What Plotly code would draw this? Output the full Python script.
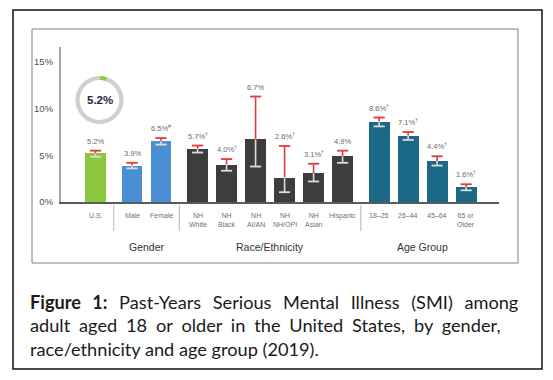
import plotly.graph_objects as go

# ---------------- data ----------------
categories = ["U.S.", "Male", "Female", "NH<br>White", "NH<br>Black", "NH<br>AI/AN",
              "NH<br>NH/OPI", "NH<br>Asian", "Hispanic", "18–25", "26–44", "45–64", "65 or<br>Older"]
groups = ["", "Gender", "Gender", "Race/Ethnicity", "Race/Ethnicity", "Race/Ethnicity",
          "Race/Ethnicity", "Race/Ethnicity", "Race/Ethnicity", "Age Group", "Age Group",
          "Age Group", "Age Group"]
values = [5.2, 3.9, 6.5, 5.7, 4.0, 6.7, 2.6, 3.1, 4.9, 8.6, 7.1, 4.4, 1.6]
err_up = [0.3, 0.3, 0.35, 0.35, 0.6, 4.6, 3.4, 1.0, 0.6, 0.45, 0.4, 0.5, 0.3]
err_down = [0.35, 0.3, 0.35, 0.4, 0.65, 2.9, 1.55, 0.9, 0.7, 0.5, 0.45, 0.5, 0.35]
marks = ["", "", "#", "†", "†", "", "†", "†", "", "†", "†", "†", "†"]
ytick_vals = [0, 5, 10, 15]
ytick_text = ["0%", "5%", "10%", "15%"]
overall_value = 5.2
caption_lines = [
    "<b>Figure 1:</b> Past-Years Serious Mental Illness (SMI) among",
    "adult aged 18 or older in the United States, by gender,",
    "race/ethnicity and age group (2019).",
]

# ---------------- styling ----------------
group_colors = {"": "#8dc63f", "Gender": "#4a8fd3", "Race/Ethnicity": "#3d3d3d",
                "Age Group": "#1b6986"}
GAP = 0.26
xpos = []
gi = 0
for i, g in enumerate(groups):
    if i > 0 and g != groups[i - 1]:
        gi += 1
    xpos.append(i + gi * GAP)

W_FIG, H_FIG = 553, 380
L, R, T, B = 61, 499, 47, 202


def px(x):
    return (x - L) / (R - L)


def py(y):
    return (B - y) / (B - T)


CHART_FONT = "Liberation Sans, Arial, sans-serif"

fig = go.Figure()

fig.add_trace(go.Bar(
    x=xpos, y=values, width=0.72,
    marker=dict(color=[group_colors[g] for g in groups], line=dict(width=0)),
    hoverinfo="skip", showlegend=False,
))

fig.add_trace(go.Scatter(
    x=xpos, y=values, mode="markers", marker=dict(opacity=0, size=1),
    error_y=dict(type="data", symmetric=False, array=err_up,
                 arrayminus=[0] * len(values), color="#e23b3b", thickness=1.6, width=0),
    showlegend=False, hoverinfo="skip",
))
fig.add_trace(go.Scatter(
    x=xpos, y=values, mode="markers", marker=dict(opacity=0, size=1),
    error_y=dict(type="data", symmetric=False, array=[0] * len(values),
                 arrayminus=err_down, color="#dcdcdc", thickness=1.6, width=0),
    showlegend=False, hoverinfo="skip",
))
fig.add_trace(go.Scatter(
    x=xpos, y=[v + e for v, e in zip(values, err_up)], mode="markers",
    marker=dict(symbol="line-ew", size=8, line=dict(color="#e23b3b", width=1.8)),
    showlegend=False, hoverinfo="skip",
))
fig.add_trace(go.Scatter(
    x=xpos, y=[v - e for v, e in zip(values, err_down)], mode="markers",
    marker=dict(symbol="line-ew", size=8, line=dict(color="#dcdcdc", width=1.8)),
    showlegend=False, hoverinfo="skip",
))

fig.add_trace(go.Pie(
    values=[overall_value, 100 - overall_value],
    marker=dict(colors=["#8dc63f", "#cfcfcf"], line=dict(width=0)),
    hole=0.83, sort=False, direction="clockwise", rotation=0,
    textinfo="none", hoverinfo="skip", showlegend=False,
    domain=dict(x=[px(75.5), px(123.5)], y=[py(124), py(76)]),
))

annotations = []
for x, v, e, m in zip(xpos, values, err_up, marks):
    txt = f"{v:.1f}%" + (f"<sup>{m}</sup>" if m else "")
    annotations.append(dict(x=x, y=v + e, xref="x", yref="y", text=txt, showarrow=False,
                            xanchor="center", yanchor="bottom", yshift=3,
                            font=dict(family=CHART_FONT, size=7.5, color="#6b6b6b")))
for x, c in zip(xpos, categories):
    annotations.append(dict(x=x, y=0, xref="x", yref="y", text=c, showarrow=False,
                            xanchor="center", yanchor="top", yshift=-8,
                            font=dict(family=CHART_FONT, size=7, color="#707070")))
shapes = []
uniq = []
for g in groups:
    if g and g not in uniq:
        uniq.append(g)
for g in uniq:
    xs = [x for x, gg in zip(xpos, groups) if gg == g]
    annotations.append(dict(x=(min(xs) + max(xs)) / 2, y=py(246.5), xref="x", yref="paper",
                            text=g, showarrow=False, xanchor="center", yanchor="middle",
                            font=dict(family=CHART_FONT, size=10.5, color="#333333")))
for i in range(1, len(groups)):
    if groups[i] != groups[i - 1]:
        xm = (xpos[i] + xpos[i - 1]) / 2
        shapes.append(dict(type="line", xref="x", yref="paper", x0=xm, x1=xm,
                           y0=py(205), y1=py(231), line=dict(color="#b5b5b5", width=1)))

annotations.append(dict(x=px(99.5), y=py(100), xref="paper", yref="paper",
                        text=f"<b>{overall_value}%</b>", showarrow=False,
                        xanchor="center", yanchor="middle",
                        font=dict(family=CHART_FONT, size=11.5, color="#1c2a3a")))

cap_y = [301.5, 325, 348.5]
cap_ws = [6.9, 4.2, 0]
for line, yy, ws in zip(caption_lines, cap_y, cap_ws):
    txt = f'<span style="word-spacing:{ws}px">{line}</span>' if ws else line
    annotations.append(dict(x=px(28), y=py(yy), xref="paper", yref="paper", text=txt,
                            showarrow=False, xanchor="left", yanchor="middle",
                            font=dict(family="Lato, Carlito, sans-serif", size=18.2,
                                      color="#1a1a1a")))

shapes.append(dict(type="rect", xref="paper", yref="paper", x0=px(13), x1=px(542),
                   y0=py(369), y1=py(10), line=dict(color="#111111", width=1.5),
                   layer="below"))
shapes.append(dict(type="rect", xref="paper", yref="paper", x0=px(32), x1=px(518),
                   y0=py(263), y1=py(29), line=dict(color="#808080", width=1),
                   layer="below"))

fig.update_layout(
    width=W_FIG, height=H_FIG,
    margin=dict(l=L, r=W_FIG - R, t=T, b=H_FIG - B, autoexpand=False),
    paper_bgcolor="white", plot_bgcolor="white",
    annotations=annotations, shapes=shapes,
    xaxis=dict(range=[(L - 95.5) / 29, (R - 95.5) / 29], showticklabels=False,
               showgrid=False, zeroline=False, showline=True, linecolor="#5a5a5a",
               linewidth=2, ticks=""),
    yaxis=dict(range=[0, (B - T) / ((B - 62) / 15)], tickvals=ytick_vals, ticktext=ytick_text,
               showgrid=False, zeroline=False, showline=True, linecolor="#a8a8a8",
               linewidth=2, ticks="", ticklabelstandoff=4,
               tickfont=dict(family=CHART_FONT, size=9.5, color="#505050")),
    bargap=0,
)

fig.write_html("out.html", config={"displayModeBar": False},
               post_script="document.body.style.margin='0';")
